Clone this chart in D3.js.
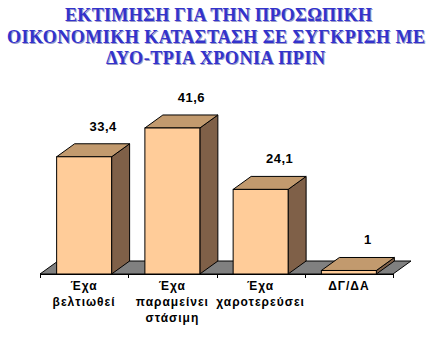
<!DOCTYPE html>
<html>
<head>
<meta charset="utf-8">
<script src="https://cdn.jsdelivr.net/npm/d3@7"></script>
<style>
  html, body { margin: 0; padding: 0; background: #fff; }
  svg { display: block; }
</style>
</head>
<body>
<script>
// ---- data ----
const titleLines = ["ΕΚΤΙΜΗΣΗ ΓΙΑ ΤΗΝ ΠΡΟΣΩΠΙΚΗ", "ΟΙΚΟΝΟΜΙΚΗ ΚΑΤΑΣΤΑΣΗ ΣΕ ΣΥΓΚΡΙΣΗ ΜΕ", "ΔΥΟ-ΤΡΙΑ ΧΡΟΝΙΑ ΠΡΙΝ"];
const categories = ["c1", "c2", "c3", "c4"];
const categoryLabels = [["Έχα", "βελτιωθεί"], ["Έχα", "παραμείνει", "στάσιμη"], ["Έχα", "χαροτερεύσει"], ["ΔΓ/ΔΑ"]];
const values = [33.4, 41.6, 24.1, 1];
const valueLabels = ["33,4", "41,6", "24,1", "1"];

const W = 434, H = 338;
const svg = d3.select("body").append("svg").attr("width", W).attr("height", H);

// 3D depth offsets
const DX = 18, DY = -13;

const x = d3.scaleBand().domain(categories).range([40, 393]).paddingInner(0.377).paddingOuter(0.1885);
const y = d3.scaleLinear().domain([0, 50]).range([274, 98.5]);

// title
const tLayout = [{y: 21, cx: 218.5, w: 307}, {y: 43, cx: 216, w: 418}, {y: 64, cx: 215.5, w: 219}];
const titleFont = "bold 18px 'Liberation Serif'";
titleLines.forEach((t, i) => {
  const L = tLayout[i];
  [[1, "#9a9ac8"], [0, "#3333cc"]].forEach(([off, col]) => {
    svg.append("text").attr("x", L.cx + off).attr("y", L.y + off).attr("fill", col)
      .attr("text-anchor", "middle")
      .attr("style", "font: " + titleFont)
      .attr("textLength", L.w).attr("lengthAdjust", "spacing").text(t);
  });
});

// floor
const x0 = 40, x1 = 393, y0 = y(0);
svg.append("polygon")
  .attr("points", [[x0, y0], [x1, y0], [x1 + DX, y0 + DY], [x0 + DX, y0 + DY]].map(p => p.join(",")).join(" "))
  .attr("fill", "#808080").attr("stroke", "#000").attr("stroke-width", 1);

// axis line and ticks
const axisG = svg.append("g");
axisG.append("line").attr("x1", x0).attr("x2", x1).attr("y1", y0 + 0.5).attr("y2", y0 + 0.5)
  .attr("stroke", "#000").attr("stroke-width", 1);
const tickXs = categories.map(c => x(c) - x.step() * x.paddingInner() / 2).concat([x1]);
tickXs.forEach(tx => {
  axisG.append("line").attr("x1", Math.round(tx) + 0.5).attr("x2", Math.round(tx) + 0.5)
    .attr("y1", y0).attr("y2", y0 + 4).attr("stroke", "#000");
});

// bars
const bars = svg.append("g").selectAll("g").data(values).join("g");
bars.each(function(v, i) {
  const g = d3.select(this);
  const bx = x(categories[i]), bw = x.bandwidth(), top = y(v), bot = y(0);
  g.append("polygon") // side
    .attr("points", [[bx + bw, bot], [bx + bw + DX, bot + DY], [bx + bw + DX, top + DY], [bx + bw, top]].map(p => p.join(",")).join(" "))
    .attr("fill", "#7f6048").attr("stroke", "#000").attr("stroke-width", 1).attr("stroke-linejoin", "round");
  g.append("polygon") // top
    .attr("points", [[bx, top], [bx + DX, top + DY], [bx + bw + DX, top + DY], [bx + bw, top]].map(p => p.join(",")).join(" "))
    .attr("fill", "#c29a6e").attr("stroke", "#000").attr("stroke-width", 1).attr("stroke-linejoin", "round");
  g.append("rect") // front
    .attr("x", bx).attr("y", top).attr("width", bw).attr("height", bot - top)
    .attr("fill", "#ffcc99").attr("stroke", "#000").attr("stroke-width", 1);
  g.append("text")
    .attr("x", bx + bw / 2 + 19).attr("y", top - 26)
    .attr("text-anchor", "middle")
    .attr("font-family", "'Liberation Sans', Arial, sans-serif").attr("font-weight", "bold").attr("font-size", 13)
    .attr("letter-spacing", "0.5px")
    .attr("fill", "#000").text(valueLabels[i]);
});

// category labels
categories.forEach((c, i) => {
  const cx = x(c) + x.bandwidth() / 2;
  const t = svg.append("text").attr("text-anchor", "middle")
    .attr("font-family", "'Liberation Sans', Arial, sans-serif").attr("font-weight", "bold").attr("font-size", 12)
    .attr("letter-spacing", "1px").attr("fill", "#000");
  categoryLabels[i].forEach((line, j) => {
    t.append("tspan").attr("x", cx).attr("y", 290 + j * 16).text(line);
  });
});
</script>
</body>
</html>
